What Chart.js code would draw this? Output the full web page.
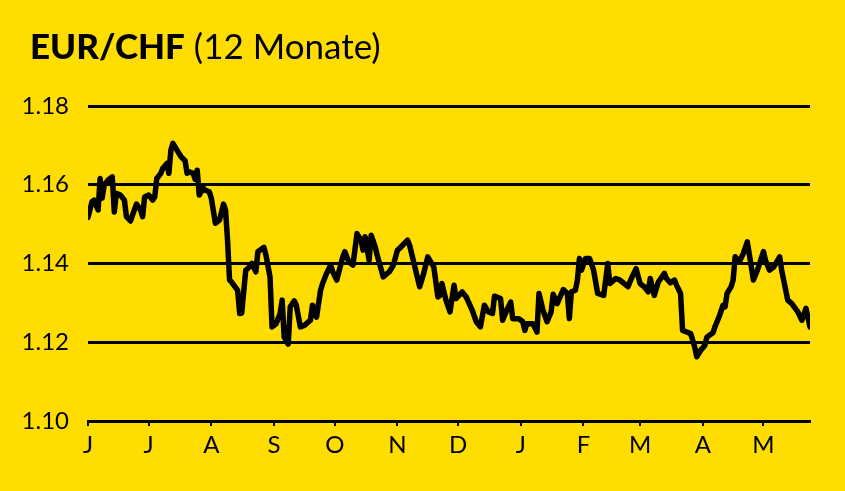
<!DOCTYPE html>
<html lang="de">
<head>
<meta charset="utf-8">
<title>EUR/CHF (12 Monate)</title>
<script src="https://cdn.jsdelivr.net/npm/chart.js@4.4.1/dist/chart.umd.min.js"></script>
<style>
  html, body { margin: 0; padding: 0; background: #FFDD00; }
  #wrap { position: relative; width: 845px; height: 491px; background: #FFDD00; }
  #title {
    position: absolute; left: 30px; top: 23px; margin: 0;
    font-family: Lato, "Noto Sans", sans-serif; font-size: 35px; line-height: 44px;
    font-weight: 400; color: #000; white-space: nowrap;
  }
  #title b { font-weight: 900; }
  canvas { position: absolute; left: 0; top: 0; }
</style>
</head>
<body>
<div id="wrap">
  <canvas id="chart" width="845" height="491"></canvas>
  <h1 id="title"><b>EUR/CHF</b> (12 Monate)</h1>
</div>
<script>
// Tage seit 1. Juni
const days = [
  0, 2, 3, 5, 6, 7, 8, 10, 12, 13,
  14, 16, 18, 19, 21, 22, 24, 26, 27, 28,
  30, 32, 33, 34, 36, 37, 39, 40, 41, 42,
  44, 46, 48, 49, 50, 52, 53, 54, 55, 57,
  58, 60, 61, 63, 65, 67, 68, 69, 70, 71,
  74, 75, 76, 78, 79, 81, 83, 84, 87, 88,
  90, 91, 93, 95, 96, 97, 99, 100, 102, 103,
  105, 107, 110, 111, 113, 115, 116, 118, 120, 121,
  123, 126, 127, 129, 131, 133, 135, 136, 137, 139,
  140, 142, 143, 146, 149, 151, 153, 154, 158, 159,
  162, 164, 166, 168, 171, 173, 174, 175, 177, 179,
  181, 182, 185, 187, 190, 192, 194, 196, 198, 200,
  201, 204, 205, 207, 209, 210, 213, 215, 216, 217,
  220, 222, 223, 225, 227, 229, 230, 232, 235, 237,
  238, 239, 241, 242, 243, 244, 246, 248, 250, 252,
  255, 257, 258, 261, 263, 267, 269, 271, 273, 275,
  277, 278, 280, 282, 285, 286, 288, 290, 291, 293,
  294, 296, 298, 300, 301, 303, 305, 306, 309, 310,
  312, 314, 315, 316, 318, 319, 320, 322, 324, 326,
  328, 329, 331, 334, 335, 337, 339, 342, 343, 346,
  348, 351, 353, 355, 357
];

const eurChf = [
  1.1517, 1.1557, 1.1561, 1.1536, 1.1616, 1.1566, 1.1599, 1.1612, 1.1620, 1.1531,
  1.1578, 1.1574, 1.1561, 1.1519, 1.1508, 1.1523, 1.1551, 1.1536, 1.1519, 1.1569,
  1.1574, 1.1561, 1.1569, 1.1616, 1.1629, 1.1642, 1.1654, 1.1629, 1.1688, 1.1705,
  1.1688, 1.1671, 1.1661, 1.1629, 1.1633, 1.1629, 1.1614, 1.1637, 1.1574, 1.1591,
  1.1586, 1.1582, 1.1565, 1.1502, 1.1510, 1.1551, 1.1536, 1.1459, 1.1358, 1.1353,
  1.1332, 1.1273, 1.1274, 1.1383, 1.1387, 1.1400, 1.1379, 1.1430, 1.1441, 1.1421,
  1.1366, 1.1239, 1.1247, 1.1273, 1.1307, 1.1213, 1.1195, 1.1290, 1.1305, 1.1294,
  1.1239, 1.1243, 1.1256, 1.1294, 1.1264, 1.1332, 1.1349, 1.1375, 1.1396, 1.1379,
  1.1358, 1.1417, 1.1430, 1.1404, 1.1396, 1.1476, 1.1459, 1.1434, 1.1468, 1.1408,
  1.1472, 1.1442, 1.1421, 1.1366, 1.1379, 1.1396, 1.1434, 1.1438, 1.1459, 1.1447,
  1.1383, 1.1341, 1.1375, 1.1417, 1.1391, 1.1315, 1.1319, 1.1349, 1.1307, 1.1277,
  1.1345, 1.1311, 1.1328, 1.1315, 1.1281, 1.1252, 1.1239, 1.1294, 1.1277, 1.1273,
  1.1317, 1.1311, 1.1256, 1.1281, 1.1302, 1.1260, 1.1260, 1.1252, 1.1230, 1.1247,
  1.1247, 1.1226, 1.1324, 1.1281, 1.1252, 1.1277, 1.1322, 1.1298, 1.1334, 1.1324,
  1.1260, 1.1328, 1.1332, 1.1358, 1.1413, 1.1383, 1.1413, 1.1413, 1.1383, 1.1324,
  1.1319, 1.1400, 1.1349, 1.1362, 1.1358, 1.1341, 1.1366, 1.1387, 1.1349, 1.1341,
  1.1328, 1.1362, 1.1319, 1.1353, 1.1375, 1.1362, 1.1351, 1.1358, 1.1345, 1.1324,
  1.1230, 1.1226, 1.1222, 1.1188, 1.1163, 1.1180, 1.1192, 1.1213, 1.1224, 1.1239,
  1.1264, 1.1294, 1.1290, 1.1324, 1.1341, 1.1358, 1.1417, 1.1404, 1.1425, 1.1455,
  1.1391, 1.1358, 1.1383, 1.1430, 1.1408, 1.1383, 1.1391, 1.1417, 1.1383, 1.1307,
  1.1298, 1.1277, 1.1256, 1.1286, 1.1239
];

// Monatsanfänge (Tage seit 1. Juni) und Beschriftung
const monthStarts = [0, 30, 61, 92, 122, 153, 183, 214, 245, 273, 304, 334];
const monthLabels = ['J', 'J', 'A', 'S', 'O', 'N', 'D', 'J', 'F', 'M', 'A', 'M'];

const yTicks = [1.10, 1.12, 1.14, 1.16, 1.18];

const points = days.map((d, i) => ({ x: d, y: eurChf[i] }));
const tickFont = { family: 'Lato, "Noto Sans", sans-serif', size: 24, weight: '400' };

new Chart(document.getElementById('chart').getContext('2d'), {
  type: 'line',
  data: {
    datasets: [
      {
        data: points,
        borderColor: '#000',
        borderWidth: 5.5,
        borderJoinStyle: 'round',
        borderCapStyle: 'round',
        pointRadius: 0,
        fill: false,
        tension: 0
      }
    ]
  },
  options: {
    responsive: false,
    animation: false,
    layout: { padding: { top: 106, right: 35, left: 0, bottom: 0 } },
    plugins: { legend: { display: false }, tooltip: { enabled: false } },
    scales: {
      x: {
        type: 'linear',
        min: 0,
        max: 357,
        afterBuildTicks: (scale) => { scale.ticks = monthStarts.map(v => ({ value: v })); },
        afterFit: (scale) => { scale.height = 70; },
        ticks: {
          autoSkip: false,
          maxRotation: 0,
          padding: 5,
          color: '#000',
          font: tickFont,
          callback: (value) => monthLabels[monthStarts.indexOf(value)]
        },
        grid: { drawOnChartArea: false, drawTicks: true, tickLength: 5, color: '#000', lineWidth: 2 },
        border: { display: true, color: '#000', width: 3 }
      },
      y: {
        min: 1.10,
        max: 1.18,
        afterBuildTicks: (scale) => { scale.ticks = yTicks.map(v => ({ value: v })); },
        afterFit: (scale) => { scale.width = 88; },
        ticks: {
          padding: 19,
          color: '#000',
          font: tickFont,
          callback: (value) => value.toFixed(2)
        },
        grid: { drawTicks: false, color: '#000', lineWidth: 3 },
        border: { display: false }
      }
    }
  }
});
</script>
</body>
</html>
